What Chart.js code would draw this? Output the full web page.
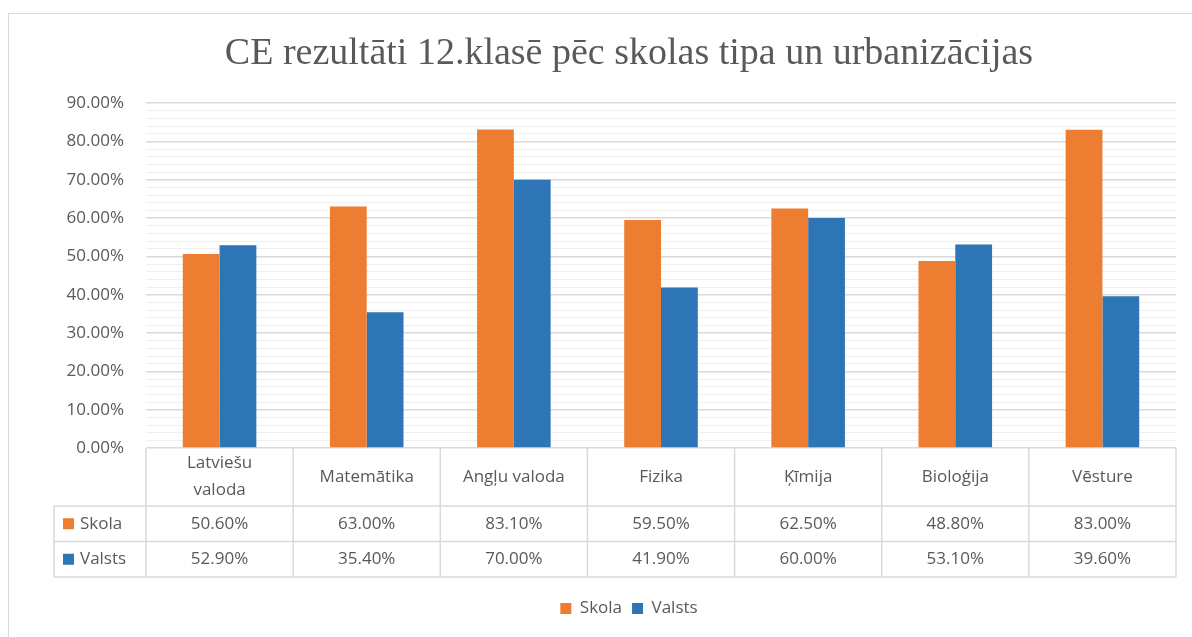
<!DOCTYPE html>
<html>
<head>
<meta charset="utf-8">
<script src="https://cdn.jsdelivr.net/npm/chart.js@4.4.1/dist/chart.umd.min.js"></script>
<style>
  html, body { margin: 0; padding: 0; background: #fff; overflow: hidden; }
  #wrap { position: absolute; left: 0; top: 0; width: 1258px; height: 637px; }
  #frame { position: absolute; left: 8px; top: 13px; width: 1300px; height: 700px; border: 1px solid #d9d9d9; pointer-events: none; }
</style>
</head>
<body>
<div id="wrap"><canvas id="grafiks"></canvas></div>
<div id="frame"></div>
<script>
// dati
const kategorijas = [['Latviešu', 'valoda'], 'Matemātika', 'Angļu valoda', 'Fizika', 'Ķīmija', 'Bioloģija', 'Vēsture'];
const skola = [50.6, 63.0, 83.1, 59.5, 62.5, 48.8, 83.0];
const valsts = [52.9, 35.4, 70.0, 41.9, 60.0, 53.1, 39.6];
const serijas = ['Skola', 'Valsts'];
const yTicks = [0, 10, 20, 30, 40, 50, 60, 70, 80, 90];

const kraasas = ['#ED7D31', '#2E75B6'];
const teksts = '#595959';
const sansFont = "'Open Sans', 'Liberation Sans', sans-serif";

const fmt = v => v.toFixed(2) + '%';

// datu tabula zem ass
const datuTabula = {
  id: 'datuTabula',
  afterDraw(chart) {
    const { ctx, scales: { x, y } } = chart;
    const top = y.getPixelForValue(0);
    const colW = x.width / kategorijas.length;
    const headH = 58, rowH = 35.5;
    const labelLeft = 54;
    const bottom = top + headH + rowH * 2;
    const vertibas = [skola, valsts];

    ctx.save();
    ctx.strokeStyle = '#D9D9D9';
    ctx.lineWidth = 1.5;
    ctx.beginPath();
    for (let i = 0; i <= kategorijas.length; i++) {
      const px = x.left + i * colW;
      ctx.moveTo(px, top);
      ctx.lineTo(px, bottom);
    }
    ctx.moveTo(labelLeft, top + headH);
    ctx.lineTo(labelLeft, bottom);
    for (let r = 0; r < 3; r++) {
      const py = top + headH + r * rowH;
      ctx.moveTo(labelLeft, py);
      ctx.lineTo(x.right, py);
    }
    ctx.stroke();

    ctx.fillStyle = teksts;
    ctx.font = '17px ' + sansFont;
    ctx.textAlign = 'center';
    ctx.textBaseline = 'middle';
    kategorijas.forEach((lab, i) => {
      const cx = x.getPixelForValue(i);
      const rindas = Array.isArray(lab) ? lab : [lab];
      rindas.forEach((t, k) => {
        ctx.fillText(t, cx, top + headH / 2 + (k - (rindas.length - 1) / 2) * 27);
      });
    });

    serijas.forEach((nos, s) => {
      const cy = top + headH + s * rowH + rowH / 2;
      ctx.fillStyle = kraasas[s];
      ctx.fillRect(labelLeft + 9, cy - 5.5, 11, 11);
      ctx.fillStyle = teksts;
      ctx.textAlign = 'left';
      ctx.fillText(nos, labelLeft + 26, cy);
      ctx.textAlign = 'center';
      vertibas[s].forEach((v, i) => {
        ctx.fillText(fmt(v), x.getPixelForValue(i), cy);
      });
    });
    ctx.restore();
  }
};

const ctx = document.getElementById('grafiks').getContext('2d');

new Chart(ctx, {
  type: 'bar',
  data: {
    labels: kategorijas,
    datasets: [
      { label: serijas[0], data: skola, backgroundColor: kraasas[0] },
      { label: serijas[1], data: valsts, backgroundColor: kraasas[1] }
    ]
  },
  options: {
    responsive: true,
    maintainAspectRatio: false,
    animation: false,
    layout: { padding: { left: 0, right: 0, top: 0, bottom: 10 } },
    datasets: {
      bar: { categoryPercentage: 0.5, barPercentage: 1.0 }
    },
    plugins: {
      title: {
        display: true,
        text: 'CE rezultāti 12.klasē pēc skolas tipa un urbanizācijas',
        color: teksts,
        font: { family: "'Liberation Serif', 'Times New Roman', serif", size: 38, weight: 'normal', lineHeight: 1.2 },
        padding: { top: 31, bottom: 26.4 }
      },
      legend: {
        position: 'bottom',
        labels: {
          color: teksts,
          boxWidth: 11,
          boxHeight: 11,
          padding: 10,
          font: { family: sansFont, size: 17 }
        }
      },
      tooltip: { enabled: false }
    },
    scales: {
      x: {
        grid: { display: false },
        border: { display: false },
        ticks: { display: false },
        afterFit: s => { s.height = 142; }
      },
      y: {
        min: 0,
        max: 90,
        border: { display: false },
        grid: {
          drawTicks: false,
          color: c => yTicks.includes(c.tick.value) ? '#D9D9D9' : '#EFEFEF',
          lineWidth: c => yTicks.includes(c.tick.value) ? 1.5 : 1
        },
        ticks: {
          stepSize: 2,
          autoSkip: false,
          padding: 22,
          color: teksts,
          font: { family: sansFont, size: 17 },
          callback: v => yTicks.includes(v) ? fmt(v) : ''
        },
        afterFit: s => { s.width = 146; }
      },
      yR: {
        position: 'right',
        grid: { display: false },
        border: { display: false },
        ticks: { display: false },
        afterFit: s => { s.width = 82; }
      }
    }
  },
  plugins: [datuTabula]
});
</script>
</body>
</html>
